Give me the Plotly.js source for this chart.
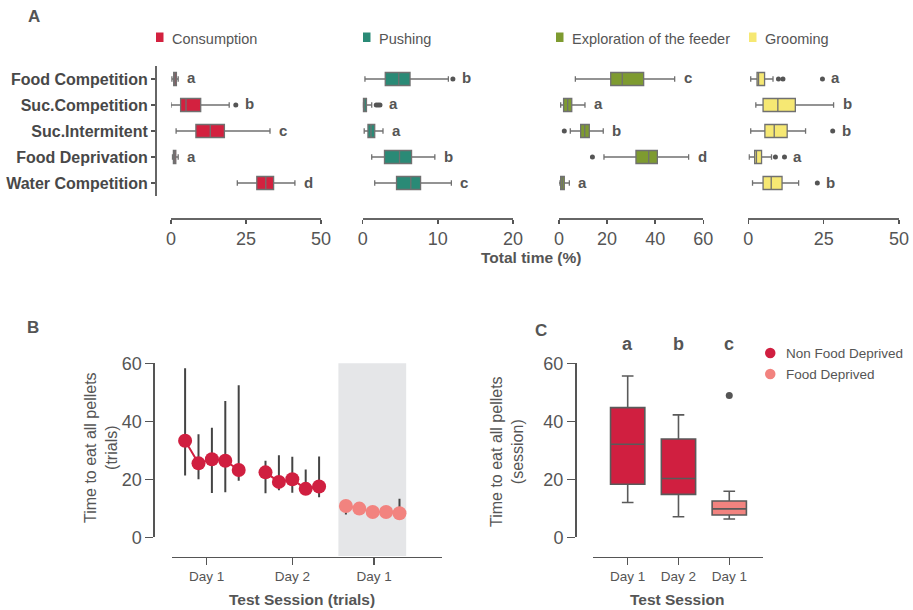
<!DOCTYPE html>
<html><head><meta charset="utf-8">
<script src="https://cdn.plot.ly/plotly-3.0.1.min.js"></script>
<style>body{margin:0;background:#fff}#chart{width:913px;height:610px}</style>
</head><body><div id="chart"></div>
<script>
// ---------- DATA ----------
const groups = ['Food Competition','Suc.Competition','Suc.Intermitent','Food Deprivation','Water Competition'];

// Consumption (% total time)
const consLo  = [0.3, 0.0, 1.7, 0.5, 22.1];
const consQ1  = [0.9, 3.2, 8.3, 0.8, 28.6];
const consMed = [1.3, 5.0, 13.1, 1.1, 31.6];
const consQ3  = [1.8, 9.9, 17.8, 1.6, 34.2];
const consHi  = [2.4, 19.4, 33.0, 2.4, 41.3];
const consOutCat = ['Suc.Competition'];
const consOutVal = [21.6];
const consLetters = ['a','b','c','a','d'];

// Pushing
const pushLo  = [0.3, 0.0, 0.2, 1.2, 1.6];
const pushQ1  = [3.0, 0.05, 0.7, 2.9, 4.5];
const pushMed = [4.8, 0.2, 1.1, 4.9, 6.4];
const pushQ3  = [6.3, 0.5, 1.6, 6.5, 7.7];
const pushHi  = [11.4, 1.2, 2.7, 9.6, 11.8];
const pushOutCat = ['Food Competition','Suc.Competition','Suc.Competition','Suc.Competition'];
const pushOutVal = [12.0, 1.8, 2.05, 2.3];
const pushLetters = ['b','a','a','b','c'];

// Exploration of the feeder
const explLo  = [6.8, 0.7, 4.7, 18.7, 0.0];
const explQ1  = [21.5, 1.9, 9.0, 32.0, 0.7];
const explMed = [26.3, 3.6, 10.7, 37.3, 1.4];
const explQ3  = [35.2, 5.3, 12.6, 40.9, 2.2];
const explHi  = [48.1, 10.8, 18.4, 53.9, 4.3];
const explOutCat = ['Suc.Intermitent','Food Deprivation'];
const explOutVal = [2.2, 13.9];
const explLetters = ['c','a','b','d','a'];

// Grooming
const groomLo  = [0.8, 2.5, 0.8, 0.3, 1.4];
const groomQ1  = [2.9, 4.9, 5.5, 2.1, 4.9];
const groomMed = [3.4, 9.8, 8.6, 2.7, 7.6];
const groomQ3  = [5.4, 15.6, 12.9, 4.4, 11.2];
const groomHi  = [8.2, 28.3, 19.0, 7.7, 16.7];
const groomOutCat = ['Food Competition','Food Competition','Food Competition','Suc.Intermitent','Food Deprivation','Food Deprivation','Water Competition'];
const groomOutVal = [10.0, 11.5, 24.6, 28.0, 9.0, 12.0, 22.9];
const groomLetters = ['a','b','b','a','b'];

// Panel B: time to eat all pellets per trial (mean, upper and lower bounds)
const trials = [1,2,3,4,5];
const day1Mean = [33.3, 25.5, 26.9, 26.4, 23.2];
const day1Up   = [58.3, 35.5, 37.8, 47.0, 52.4];
const day1Low  = [21.3, 20.0, 15.3, 15.5, 19.5];
const day2Mean = [22.4, 19.1, 20.0, 16.7, 17.5];
const day2Up   = [26.4, 28.3, 27.8, 23.4, 27.9];
const day2Low  = [15.2, 16.2, 15.4, 15.1, 13.8];
const fdMean   = [10.8, 9.9, 8.7, 8.7, 8.3];
const fdUp     = [12.3, 11.2, 10.0, 10.0, 13.3];
const fdLow    = [7.9, 8.6, 7.6, 7.6, 7.2];
const sessionLabels = ['Day 1','Day 2','Day 1'];

// Panel C: per session
const nfdSession = [0,1];
const nfdQ1  = [18.3, 14.8];
const nfdMed = [32.1, 20.3];
const nfdQ3  = [44.7, 33.9];
const nfdLo  = [12.0, 7.1];
const nfdHi  = [55.6, 42.2];
const fdSession = [2];
const fdQ1  = [7.7];
const fdMed = [9.8];
const fdQ3  = [12.5];
const fdLo  = [6.3];
const fdHi  = [15.9];
const fdOutVal = [48.9];
const sessionLetters = ['a','b','c'];

// ---------- STYLE ----------
const W=913,H=610;
const px=x=>x/W, py=y=>1-y/H;
const FONT='Liberation Sans, Arial, sans-serif';
const TXT='#555';
const C_CONS='#d3213f', C_PUSH='#2a8a76', C_EXPL='#7e9b30', C_GROOM='#f6e873';
const C_NFD='#d01f40', C_FD='#f2837f';

const traces=[];
const annotations=[];
const shapes=[];
const note=(o)=>annotations.push(Object.assign({xref:'paper',yref:'paper',showarrow:false,xanchor:'center',yanchor:'middle'},o));

function panelA(axis, color, lo,q1,med,q3,hi,outCat,outVal,letters){
  traces.push({type:'box',orientation:'h',y:groups,q1:q1,median:med,q3:q3,
    lowerfence:lo,upperfence:hi,xaxis:axis,yaxis:'y',fillcolor:color,
    line:{color:'#707070',width:1.3},width:0.5,whiskerwidth:0.42,
    boxpoints:false,showlegend:false,hoverinfo:'skip'});
  traces.push({type:'scatter',mode:'markers',x:outVal,y:outCat,xaxis:axis,yaxis:'y',
    marker:{color:'#555',size:5},showlegend:false,hoverinfo:'skip'});
  groups.forEach((g,i)=>{
    let m=hi[i];
    outCat.forEach((c,j)=>{ if(c===g && outVal[j]>m) m=outVal[j]; });
    annotations.push({xref:axis,yref:'y',x:m,y:g,text:letters[i],showarrow:false,
      xanchor:'left',yanchor:'middle',xshift:7,yshift:1,font:{family:FONT,size:15,color:TXT,weight:'bold'}});
  });
}
panelA('x', C_CONS, consLo,consQ1,consMed,consQ3,consHi,consOutCat,consOutVal,consLetters);
panelA('x2',C_PUSH, pushLo,pushQ1,pushMed,pushQ3,pushHi,pushOutCat,pushOutVal,pushLetters);
panelA('x3',C_EXPL, explLo,explQ1,explMed,explQ3,explHi,explOutCat,explOutVal,explLetters);
panelA('x4',C_GROOM,groomLo,groomQ1,groomMed,groomQ3,groomHi,groomOutCat,groomOutVal,groomLetters);

// Panel A legends
const legA=[['Consumption',C_CONS,156],['Pushing',C_PUSH,363],['Exploration of the feeder',C_EXPL,556],['Grooming',C_GROOM,749]];
legA.forEach(l=>{
  shapes.push({type:'rect',xref:'paper',yref:'paper',x0:px(l[2]),x1:px(l[2]+7.5),y0:py(42),y1:py(32.5),fillcolor:l[1],line:{width:0}});
  note({x:px(l[2]+14),y:py(39),text:l[0],xanchor:'left',font:{family:FONT,size:14.5,color:TXT}});
});
note({x:px(531),y:py(257),text:'Total time (%)',font:{family:FONT,size:15.5,color:TXT,weight:'bold'}});

// Panel B
const sessOffset=[0,6,12];
function bTrace(mean,up,low,color,k){
  traces.push({type:'scatter',mode:'lines+markers',x:trials.map(t=>t+sessOffset[k]),y:mean,
    xaxis:'x5',yaxis:'y2',line:{color:color,width:2},marker:{color:color,size:14},
    error_y:{type:'data',symmetric:false,array:up.map((u,i)=>u-mean[i]),arrayminus:low.map((l,i)=>mean[i]-l),
      color:'#444',thickness:2,width:0},showlegend:false,hoverinfo:'skip'});
}
bTrace(day1Mean,day1Up,day1Low,C_NFD,0);
bTrace(day2Mean,day2Up,day2Low,C_NFD,1);
bTrace(fdMean,fdUp,fdLow,C_FD,2);
shapes.push({type:'rect',xref:'x5',yref:'paper',x0:trials[0]+sessOffset[2]-0.56,x1:trials[4]+sessOffset[2]+0.5,
  y0:py(556),y1:py(363.3),fillcolor:'#e5e6e8',line:{width:0},layer:'below'});

// Panel C
traces.push({type:'box',x:nfdSession,q1:nfdQ1,median:nfdMed,q3:nfdQ3,lowerfence:nfdLo,upperfence:nfdHi,
  xaxis:'x6',yaxis:'y3',fillcolor:C_NFD,line:{color:'#5a5a5a',width:1.6},width:0.675,whiskerwidth:0.34,
  boxpoints:false,showlegend:false,hoverinfo:'skip'});
traces.push({type:'box',x:fdSession,q1:fdQ1,median:fdMed,q3:fdQ3,lowerfence:fdLo,upperfence:fdHi,
  xaxis:'x6',yaxis:'y3',fillcolor:C_FD,line:{color:'#5a5a5a',width:1.6},width:0.675,whiskerwidth:0.34,
  boxpoints:false,showlegend:false,hoverinfo:'skip'});
traces.push({type:'scatter',mode:'markers',x:fdOutVal.map(()=>fdSession[0]),y:fdOutVal,xaxis:'x6',yaxis:'y3',
  marker:{color:'#555',size:7},showlegend:false,hoverinfo:'skip'});
sessionLetters.forEach((s,i)=>annotations.push({xref:'x6',yref:'paper',x:i,y:py(344),text:s,showarrow:false,
  xanchor:'center',yanchor:'middle',font:{family:FONT,size:18,color:TXT,weight:'bold'}}));
[['Non Food Deprived',C_NFD,353],['Food Deprived',C_FD,374]].forEach(l=>{
  shapes.push({type:'circle',xref:'paper',yref:'paper',x0:px(765),x1:px(775.5),y0:py(l[2]+5.2),y1:py(l[2]-5.2),fillcolor:l[1],line:{width:0}});
  note({x:px(784),y:py(l[2]),text:l[0],xanchor:'left',font:{family:FONT,size:13.5,color:TXT}});
});

// Titles / panel letters
[['A',34,16],['B',33,327],['C',541,330]].forEach(p=>note({x:px(p[1]),y:py(p[2]),
  text:p[0],font:{family:FONT,size:17,color:TXT,weight:'bold'}}));
note({x:px(101),y:py(448),text:'Time to eat all pellets<br>(trials)',textangle:-90,font:{family:FONT,size:16,color:TXT}});
note({x:px(507),y:py(452),text:'Time to eat all pellets<br>(session)',textangle:-90,font:{family:FONT,size:16,color:TXT}});
note({x:px(302),y:py(599),text:'Test Session (trials)',font:{family:FONT,size:15.5,color:TXT,weight:'bold'}});
note({x:px(677),y:py(599),text:'Test Session',font:{family:FONT,size:15.5,color:TXT,weight:'bold'}});

// ---------- AXES ----------
const ax=(o)=>Object.assign({showgrid:false,zeroline:false,showline:true,linecolor:'#555',linewidth:1.5,
  ticks:'outside',tickcolor:'#555',tickwidth:1.5,fixedrange:true,
  tickfont:{family:FONT,size:18,color:TXT}},o);

const xA=(d0,d1,r,tv)=>ax({domain:[px(d0),px(d1)],range:r,tickvals:tv,anchor:'free',position:py(218),ticklen:4,linecolor:'#666'});

const layout={
  width:W,height:H,margin:{l:0,r:0,t:0,b:0},paper_bgcolor:'#fff',plot_bgcolor:'rgba(0,0,0,0)',
  hovermode:false,showlegend:false,
  xaxis:xA(171,321,[0,50],[0,25,50]),
  xaxis2:xA(362.7,513,[0,20],[0,10,20]),
  xaxis3:xA(559,703.3,[0,60],[0,20,40,60]),
  xaxis4:xA(748.3,899,[0,50],[0,25,50]),
  yaxis:ax({type:'category',categoryorder:'array',categoryarray:groups,range:[4.5,-0.5],autorange:false,
    domain:[py(196),py(66)],anchor:'free',position:px(155),ticklen:4,linecolor:'#666',
    tickfont:{family:FONT,size:16,color:'#484848',weight:'bold'}}),
  xaxis5:ax({domain:[px(171.7),px(441.7)],range:[0,20.15],anchor:'free',position:py(556.7),
    tickvals:[2.6,9,15.1],ticktext:sessionLabels,ticklen:7,tickfont:{family:FONT,size:13.5,color:TXT}}),
  yaxis2:ax({domain:[py(537.3),py(363.3)],range:[0,60],tickvals:[0,20,40,60],anchor:'free',position:px(153.3),ticklen:8}),
  xaxis6:ax({domain:[px(593.3),px(763.3)],range:[-0.677,2.67],anchor:'free',position:py(556.7),
    tickvals:[0,1,2],ticktext:sessionLabels,ticklen:7,tickfont:{family:FONT,size:13.5,color:TXT}}),
  yaxis3:ax({domain:[py(537.3),py(363.3)],range:[0,60],tickvals:[0,20,40,60],anchor:'free',position:px(575),ticklen:8}),
  boxmode:'overlay',
  annotations:annotations,shapes:shapes
};
Plotly.newPlot('chart',traces,layout,{displayModeBar:false,staticPlot:true});
</script></body></html>
